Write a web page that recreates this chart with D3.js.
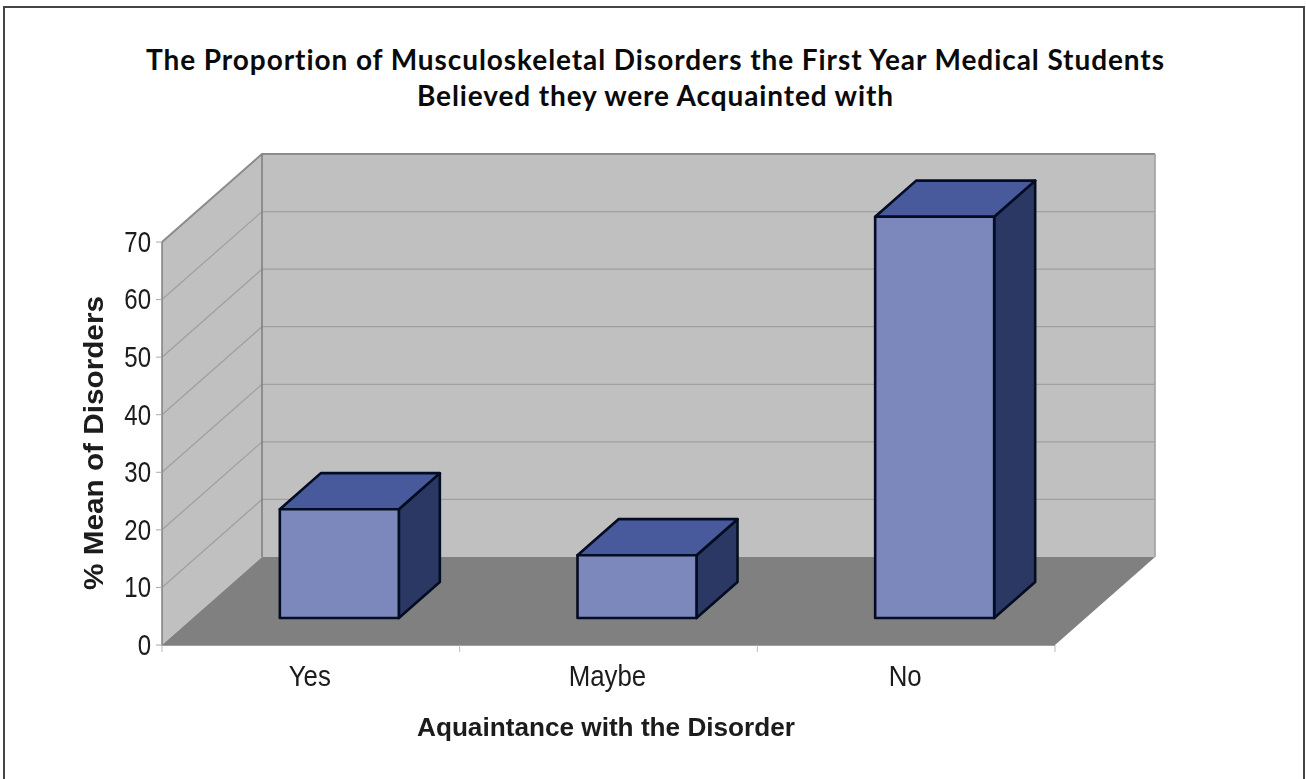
<!DOCTYPE html>
<html><head><meta charset="utf-8">
<script src="https://cdn.jsdelivr.net/npm/d3@7/dist/d3.min.js"></script>
<style>html,body{margin:0;padding:0;background:#fff}svg{display:block}text{font-variant-ligatures:none}</style>
</head><body><svg id="c" width="1306" height="779"></svg>
<script>
const categories = ["Yes","Maybe","No"];
const values = [18.9,10.9,69.7];
const yTicks = [0,10,20,30,40,50,60,70];
const titleLines = ["The Proportion of Musculoskeletal Disorders the First Year Medical Students","Believed they were Acquainted with"];
const yTitle = "% Mean of Disorders";
const xTitle = "Aquaintance with the Disorder";

const root = d3.select("#c");
const defs = root.append("defs");
defs.append("filter").attr("id","soft").append("feGaussianBlur").attr("stdDeviation",0.45);
const frame = root.append("g");
frame.append("path").attr("d",d3.line()([[4,779],[4,7],[1304,7],[1304,779]])).attr("fill","none").attr("stroke","#444").attr("stroke-width",2);
const svg = root.append("g").attr("filter","url(#soft)");

const y = d3.scaleLinear().domain([0,70]).range([645,242]);
const x = d3.scaleBand().domain(categories).range([162,1055]);
const dx=100, dy=-88;
const poly=(pts,fill,stroke,sw)=>svg.append("path").attr("d",d3.line()(pts)+"Z").attr("fill",fill).attr("stroke",stroke||"none").attr("stroke-width",sw||0).attr("stroke-linejoin","round");
const gridC="#a0a0a0", wallC="#c0c0c0", edge="#808080";
const x0=x.range()[0], x1=x.range()[1], y0=y(0), yT=y(70);

poly([[x0,y0],[x0+dx,y0+dy],[x0+dx,yT+dy],[x0,yT]],wallC);
poly([[x0+dx,y0+dy],[x1+dx,y0+dy],[x1+dx,yT+dy],[x0+dx,yT+dy]],wallC);
poly([[x0,y0],[x1,y0],[x1+dx,y0+dy],[x0+dx,y0+dy]],"#808080");
yTicks.slice(1).forEach(t=>{
  const p=y(t);
  svg.append("path").attr("d",d3.line()([[x0,p],[x0+dx,p+dy],[x1+dx,p+dy]])).attr("fill","none").attr("stroke",t===70?"#8c8c8c":gridC).attr("stroke-width",t===70?2:1.3);
});
svg.append("path").attr("d",d3.line()([[x0,yT],[x0,y0],[x1,y0]])).attr("fill","none").attr("stroke",edge).attr("stroke-width",1.5);
svg.append("path").attr("d",d3.line()([[x0+dx,yT+dy],[x0+dx,y0+dy]])).attr("fill","none").attr("stroke",edge).attr("stroke-width",1.6);
svg.append("path").attr("d",d3.line()([[x1+dx,yT+dy],[x1+dx,y0+dy]])).attr("fill","none").attr("stroke","#a0a0a0").attr("stroke-width",1.6);

const squeeze=(sel,f)=>{ sel.each(function(){ const n=this; d3.select(n).attr("textLength",n.getComputedTextLength()*f).attr("lengthAdjust","spacingAndGlyphs"); }); return sel; };
const ga=svg.append("g").attr("font-family","'Liberation Sans',Arial,sans-serif").attr("font-size",30).attr("fill","#1a1a1a");
yTicks.forEach(t=>{
  svg.append("line").attr("x1",x0-6).attr("x2",x0).attr("y1",y(t)).attr("y2",y(t)).attr("stroke","#aaa");
  squeeze(ga.append("text").attr("x",x0-11).attr("y",y(t)-1).attr("dy","0.36em").attr("text-anchor","end").text(t),0.8);
});
x.domain().concat(["end"]).forEach((c,i)=>{
  const p=x0+i*x.step();
  svg.append("line").attr("x1",p).attr("x2",p).attr("y1",y0).attr("y2",y0+7).attr("stroke","#bbb");
});
categories.forEach(c=>{
  squeeze(ga.append("text").attr("x",x(c)+x.bandwidth()/2-1).attr("y",686).attr("text-anchor","middle").text(c),0.86);
});
const barW=119, depthFront=0.285, depthFrac=0.41;
const barDx=dx*depthFrac, barDy=dy*depthFrac, baseShiftY=-27;
categories.forEach((c,i)=>{
  const cx=x(c)+x.bandwidth()/2+dx*depthFront;
  const l=cx-barW/2, r=cx+barW/2, b=y(0)+baseShiftY, t=y(values[i])+baseShiftY;
  const st="#060a20", sw=2.6;
  poly([[r,t],[r+barDx,t+barDy],[r+barDx,b+barDy],[r,b]],"#2c3764",st,sw);
  poly([[l,t],[r,t],[r+barDx,t+barDy],[l+barDx,t+barDy]],"#4a5a9c",st,sw);
  poly([[l,t],[r,t],[r,b],[l,b]],"#7b88bc",st,sw);
});
const tg=root.append("g").attr("font-family","Lato,sans-serif").attr("font-weight",700).attr("font-size",28).attr("fill","#0a0a0a").attr("text-anchor","middle");
const titleW=[1018,476];
titleLines.forEach((s,i)=>tg.append("text").attr("x",655).attr("y",70+i*35.5).attr("textLength",titleW[i]).attr("lengthAdjust","spacing").text(s));
svg.append("text").attr("x",606).attr("y",736).attr("text-anchor","middle").attr("font-family","'Liberation Sans',Arial,sans-serif").attr("font-weight",700).attr("font-size",26).attr("fill","#1a1a1a").attr("textLength",378).attr("lengthAdjust","spacingAndGlyphs").text(xTitle);
svg.append("text").attr("transform","translate(103,443) rotate(-90)").attr("text-anchor","middle").attr("font-family","'Liberation Sans',Arial,sans-serif").attr("font-weight",700).attr("font-size",27).attr("fill","#1a1a1a").attr("textLength",294).attr("lengthAdjust","spacingAndGlyphs").text(yTitle);
</script></body></html>
